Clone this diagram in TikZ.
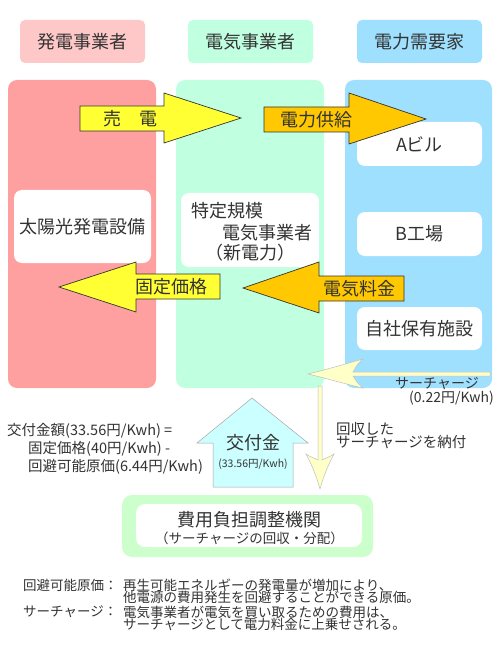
\documentclass[tikz,border=0pt]{standalone}
\usepackage{fontspec}
\setmainfont{Noto Sans CJK JP}
\definecolor{txt}{HTML}{333333}
\definecolor{hpink}{HTML}{FFC8C8}
\definecolor{cpink}{HTML}{FFA0A0}
\definecolor{mint}{HTML}{C0FFE0}
\definecolor{sky}{HTML}{A0E0FF}
\definecolor{ayellow}{HTML}{FFFF33}
\definecolor{aorange}{HTML}{FFC800}
\definecolor{pale}{HTML}{FFFFC8}
\definecolor{cyanl}{HTML}{CCFFFF}
\definecolor{greenl}{HTML}{CCFFCC}
\newcommand{\fs}[1]{\fontsize{#1}{#1}\selectfont}
\begin{document}
\begin{tikzpicture}[x=1pt,y=-1pt,
  every node/.style={text=txt, inner sep=0pt},
  hdr/.style={rounded corners=5pt, minimum width=125pt, minimum height=43pt, font=\fs{18}},
  colbox/.style={rounded corners=9pt, minimum width=148pt, minimum height=308pt},
  wbox/.style={fill=white, rounded corners=8pt, font=\fs{18}},
  blockarrow/.style={draw=txt, line width=0.7pt, line join=miter},
  lbl/.style={font=\fs{18}},
  small/.style={font=\fs{14}, align=left}
]
\useasboundingbox (0,0) rectangle (500,660);
\fill[white] (0,0) rectangle (500,660);

% headers
\node[hdr, fill=hpink] (h1) at (82.5,41.5) {発電事業者};
\node[hdr, fill=mint] (h2) at (250.5,41.5) {電気事業者};
\node[hdr, fill=sky] (h3) at (419.5,41.5) {電力需要家};

% columns
\node[colbox, fill=cpink] (c1) at (82,234) {};
\node[colbox, fill=mint] (c2) at (250,234) {};
\node[colbox, fill=sky, minimum width=147pt] (c3) at (418.5,234) {};

% white boxes
\node[wbox, minimum width=137pt, minimum height=73pt] (b1) at (82.5,226.5) {太陽光発電設備};
\node[wbox, minimum width=138pt, minimum height=74pt] (b2) at (250,230) {};
\node[lbl, anchor=west] (b2a) at (191,211) {特定規模};
\node[lbl, anchor=east] (b2b) at (313,233) {電気事業者};
\node[lbl] (b2c) at (250,253) {（新電力）};
\node[wbox, minimum width=125pt, minimum height=44pt] (ba) at (419.5,144) {Aビル};
\node[wbox, minimum width=125pt, minimum height=44pt] (bb) at (419.5,234) {B工場};
\node[wbox, minimum width=125pt, minimum height=43pt] (bc) at (419.5,328.5) {自社保有施設};

% block arrows
\draw[blockarrow, fill=ayellow] (80,106) -- (164,106) -- (164,93) -- (241,118) -- (164,143) -- (164,131) -- (80,131) -- cycle;
\node[lbl] (t1) at (130,118.5) {売　電};
\draw[blockarrow, fill=aorange] (264,107) -- (349,107) -- (349,93) -- (426,119) -- (349,144) -- (349,132) -- (264,132) -- cycle;
\node[lbl] (t2) at (316,119.5) {電力供給};
\draw[blockarrow, fill=ayellow] (220,274) -- (136,274) -- (136,262) -- (59,287) -- (136,312) -- (136,299) -- (220,299) -- cycle;
\node[lbl] (t3) at (171,287) {固定価格};
\draw[blockarrow, fill=aorange] (404,276) -- (319,276) -- (319,262) -- (243,288) -- (319,313) -- (319,301) -- (404,301) -- cycle;
\node[lbl] (t4) at (359,289) {電気料金};

% surcharge arrow
\draw[draw=black!25, line width=0.5pt, fill=pale] (490,372) -- (353,372)
  .. controls (356,366) and (359,362) .. (363,359)
  .. controls (345,364) and (325,370) .. (308,374)
  .. controls (325,378) and (345,384) .. (363,388)
  .. controls (359,385) and (356,381) .. (353,376) -- (490,376) -- cycle;
\node[font=\fs{14}, anchor=east] (s1) at (479,384) {サーチャージ};
\node[font=\fs{14}, anchor=east] (s2) at (494,398.5) {(0.22円/Kwh)};

% down arrow
\draw[draw=black!25, line width=0.5pt, fill=pale] (318,386) -- (322,386) -- (322,460)
  .. controls (326,458) and (330,457) .. (334,454)
  .. controls (328,465) and (323,478) .. (320,489)
  .. controls (317,478) and (312,465) .. (306,454)
  .. controls (310,457) and (314,458) .. (318,460) -- cycle;
\node[small, anchor=west, font=\fs{14.5}, align=left] (r1) at (336,435.5) {回収した\\[-1pt]サーチャージを納付};

% up arrow
\draw[draw=black!35, line width=0.5pt, fill=cyanl] (213,487) -- (213,443) -- (197,443) -- (252,398) -- (308,443) -- (293,443) -- (293,487) -- cycle;
\node[font=\fs{18}] (k1) at (253,443) {交付金};
\node[font=\fs{10.5}] (k2) at (253,464) {(33.56円/Kwh)};

% formula
\node[font=\fs{14.5}, anchor=west] (f1) at (7,430.5) {交付金額(33.56円/Kwh) =};
\node[font=\fs{14.5}, anchor=west] (f2) at (28,448.5) {固定価格(40円/Kwh) -};
\node[font=\fs{14.5}, anchor=west] (f3) at (28,467) {回避可能原価(6.44円/Kwh)};

% bottom organization
\node[fill=greenl, rounded corners=10pt, minimum width=251pt, minimum height=62pt] (g1) at (247.5,526) {};
\node[fill=white, rounded corners=9pt, minimum width=226pt, minimum height=43pt] (g2) at (249,525.5) {};
\node[font=\fs{18}] (g3) at (249.5,520) {費用負担調整機関};
\node[font=\fs{13.5}] (g4) at (249.5,538) {（サーチャージの回収・分配）};

% notes
\node[font=\fs{13.5}, anchor=west] (n1) at (23,585) {回避可能原価：};
\node[font=\fs{13.5}, anchor=west, align=left] (n2) at (123,591) {再生可能エネルギーの発電量が増加により、\\[-1.5pt]他電源の費用発生を回避することができる原価。};
\node[font=\fs{13.5}, anchor=west] (n3) at (23,612) {サーチャージ：};
\node[font=\fs{13.5}, anchor=west, align=left] (n4) at (123,618) {電気事業者が電気を買い取るための費用は、\\[-1.5pt]サーチャージとして電力料金に上乗せされる。};
\end{tikzpicture}
\end{document}
